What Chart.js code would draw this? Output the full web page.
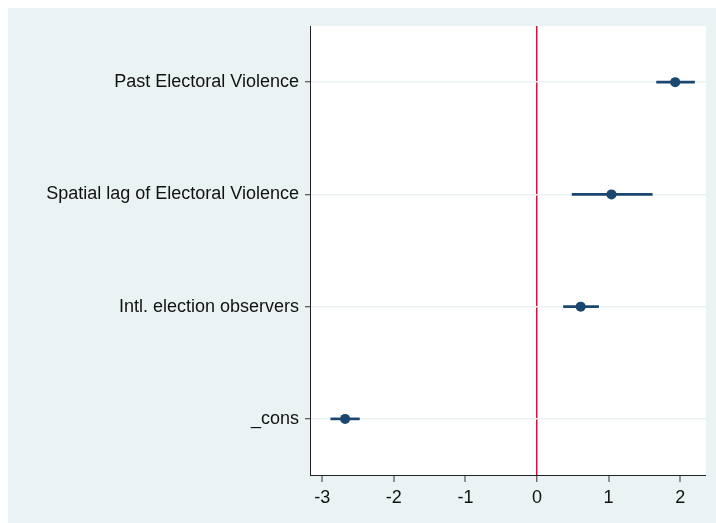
<!DOCTYPE html>
<html>
<head>
<meta charset="utf-8">
<script src="https://cdn.jsdelivr.net/npm/chart.js@4.4.1/dist/chart.umd.min.js"></script>
<style>
  html, body { margin: 0; padding: 0; background: #ffffff; overflow: hidden; width: 100%; height: 100%; }
  #bg { position: fixed; left: 8px; top: 8px; right: 0; bottom: 0; background: #EAF2F3; }
  #c { position: absolute; left: 8px; top: 8px; display: block; }
</style>
</head>
<body>
<div id="bg"></div>
<canvas id="c" width="708" height="515"></canvas>
<script>
// Data
const categories = ["Past Electoral Violence", "Spatial lag of Electoral Violence", "Intl. election observers", "_cons"];
const coef  = [1.93, 1.04, 0.61, -2.68];
const ciLow = [1.67, 0.49, 0.37, -2.88];
const ciHigh= [2.20, 1.61, 0.86, -2.48];
const xTicks = [-3, -2, -1, 0, 1, 2];
const xMin = -3.17, xMax = 2.36;
const refLine = 0;

const NAVY = '#1A476F';
const RED = '#D0143C';
const FONT = { family: '"Liberation Sans", Arial, sans-serif', size: 18 };

const plotBg = {
  id: 'plotBg',
  beforeDraw(chart) {
    const { ctx, chartArea: a } = chart;
    ctx.save();
    ctx.fillStyle = '#ffffff';
    ctx.fillRect(a.left, a.top, a.right - a.left, a.bottom - a.top);
    ctx.restore();
  }
};

new Chart(document.getElementById('c'), {
  type: 'bar',
  data: {
    labels: categories,
    datasets: [
      {
        type: 'bar',
        indexAxis: 'y',
        data: categories.map((_, i) => [ciLow[i], ciHigh[i]]),
        backgroundColor: NAVY,
        borderWidth: 0,
        barThickness: 2,
        grouped: false,
        order: 2
      },
      {
        type: 'line',
        indexAxis: 'y',
        data: coef,
        showLine: false,
        pointRadius: 5,
        pointHoverRadius: 5,
        pointBackgroundColor: NAVY,
        pointBorderColor: NAVY,
        pointBorderWidth: 0,
        order: 1
      }
    ]
  },
  plugins: [plotBg],
  options: {
    indexAxis: 'y',
    responsive: false,
    animation: false,
    devicePixelRatio: 1,
    layout: { padding: { left: 0, top: 18, right: 10, bottom: 0 } },
    plugins: { legend: { display: false }, tooltip: { enabled: false } },
    scales: {
      x: {
        type: 'linear',
        min: xMin,
        max: xMax,
        afterBuildTicks(scale) { scale.ticks = xTicks.map(v => ({ value: v })); },
        afterFit(scale) { scale.height = 48; },
        grid: {
          drawOnChartArea: true,
          color: (ctx) => (ctx.tick && ctx.tick.value === refLine) ? RED : 'rgba(0,0,0,0)',
          lineWidth: (ctx) => (ctx.tick && ctx.tick.value === refLine) ? 1.5 : 0,
          tickColor: '#333333',
          tickLength: 7,
          tickWidth: 1
        },
        border: { display: true, color: '#222222', width: 1 },
        ticks: { color: '#111111', font: FONT, padding: 5, maxRotation: 0 }
      },
      y: {
        type: 'category',
        offset: true,
        afterFit(scale) { scale.width = 302; },
        grid: {
          offset: false,
          color: '#EAF2F3',
          lineWidth: 1.5,
          tickColor: '#333333',
          tickLength: 5,
          tickWidth: 1
        },
        border: { display: true, color: '#222222', width: 1 },
        ticks: { color: '#111111', font: FONT, padding: 6 }
      }
    }
  }
});
</script>
</body>
</html>
